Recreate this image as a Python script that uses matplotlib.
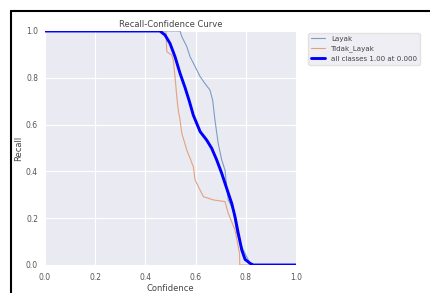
import numpy as np
import matplotlib
matplotlib.use("Agg")
import matplotlib.pyplot as plt
import seaborn as sns

# ---- data ----
layak_conf = [0.0, 0.538, 0.545, 0.565, 0.578, 0.598, 0.618, 0.637, 0.657, 0.668,
              0.677, 0.690, 0.704, 0.717, 0.724, 0.730, 0.750, 0.764, 0.784, 0.803, 0.817, 0.83, 1.0]
layak_rec = [1.0, 1.0, 0.976, 0.933, 0.890, 0.848, 0.805, 0.776, 0.748, 0.705,
             0.620, 0.520, 0.449, 0.406, 0.335, 0.278, 0.235, 0.135, 0.078, 0.036, 0.007, 0.0, 0.0]

tidak_conf = [0.0, 0.482, 0.485, 0.505, 0.511, 0.518, 0.525, 0.531, 0.538, 0.545,
              0.565, 0.591, 0.598, 0.631, 0.671, 0.717, 0.730, 0.757, 0.770, 0.775, 0.776, 1.0]
tidak_rec = [1.0, 1.0, 0.912, 0.897, 0.876, 0.805, 0.719, 0.662, 0.620, 0.563,
             0.491, 0.420, 0.363, 0.292, 0.278, 0.271, 0.221, 0.150, 0.078, 0.05, 0.0, 0.0]

all_conf = [0.0, 0.458, 0.478, 0.498, 0.518, 0.538, 0.558, 0.575, 0.591, 0.618,
            0.644, 0.664, 0.684, 0.704, 0.724, 0.744, 0.757, 0.770, 0.784, 0.797,
            0.817, 0.83, 1.0]
all_rec = [1.0, 1.0, 0.983, 0.947, 0.890, 0.819, 0.758, 0.700, 0.640, 0.570,
           0.534, 0.499, 0.449, 0.392, 0.327, 0.263, 0.206, 0.135, 0.064, 0.024,
           0.007, 0.0, 0.0]

names = ["Layak", "Tidak_Layak"]
all_label = "all classes 1.00 at 0.000"

sns.set_style("darkgrid")
plt.rcParams['font.family'] = ['DejaVu Sans']

W, H = 430, 293
fig = plt.figure(figsize=(W / 100, H / 100), dpi=100)
fig.patch.set_facecolor("white")
ax = fig.add_axes([45 / W, (H - 265) / H, (296 - 45) / W, (265 - 31) / H])
ax.set_facecolor("#eaeaf2")

ax.plot(layak_conf, layak_rec, linewidth=0.8, color="#7d9cc4", label=names[0])
ax.plot(tidak_conf, tidak_rec, linewidth=0.8, color="#e3a27f", label=names[1])
ax.plot(all_conf, all_rec, linewidth=2.1, color="blue", label=all_label,
        solid_joinstyle="round")

ax.set_xlim(0, 1)
ax.set_ylim(0, 1)
ticks = [0.0, 0.2, 0.4, 0.6, 0.8, 1.0]
ax.set_xticks(ticks)
ax.set_yticks(ticks)
ax.set_xticklabels(["%.1f" % t for t in ticks])
ax.set_yticklabels(["%.1f" % t for t in ticks])
ax.tick_params(axis="x", labelsize=5.5, colors="#555555", length=0, pad=6)
ax.tick_params(axis="y", labelsize=5.5, colors="#555555", length=0, pad=5)
ax.grid(color="white", linewidth=0.8)
for s in ax.spines.values():
    s.set_visible(False)

ax.set_xlabel("Confidence", fontsize=6, color="#444444", labelpad=1)
ax.set_ylabel("Recall", fontsize=6, color="#444444", labelpad=2)
ax.set_title("Recall-Confidence Curve", fontsize=6, color="#444444", pad=3)

leg = ax.legend(bbox_to_anchor=(1.04, 1), loc="upper left", fontsize=5.1,
                frameon=True, borderaxespad=0.3, handlelength=2.0)
leg.get_frame().set_facecolor("#eaeaf2")
leg.get_frame().set_edgecolor("#dddddd")
for t in leg.get_texts():
    t.set_color("#444444")

# black frame of the screenshot
fig.add_artist(plt.Line2D([11 / W, 11 / W], [0, 1 - 11 / H], color="black", linewidth=1.5,
                          transform=fig.transFigure))
fig.add_artist(plt.Line2D([11 / W, 1], [1 - 11 / H, 1 - 11 / H], color="black", linewidth=1.5,
                          transform=fig.transFigure))

fig.savefig("out.png", dpi=100)
